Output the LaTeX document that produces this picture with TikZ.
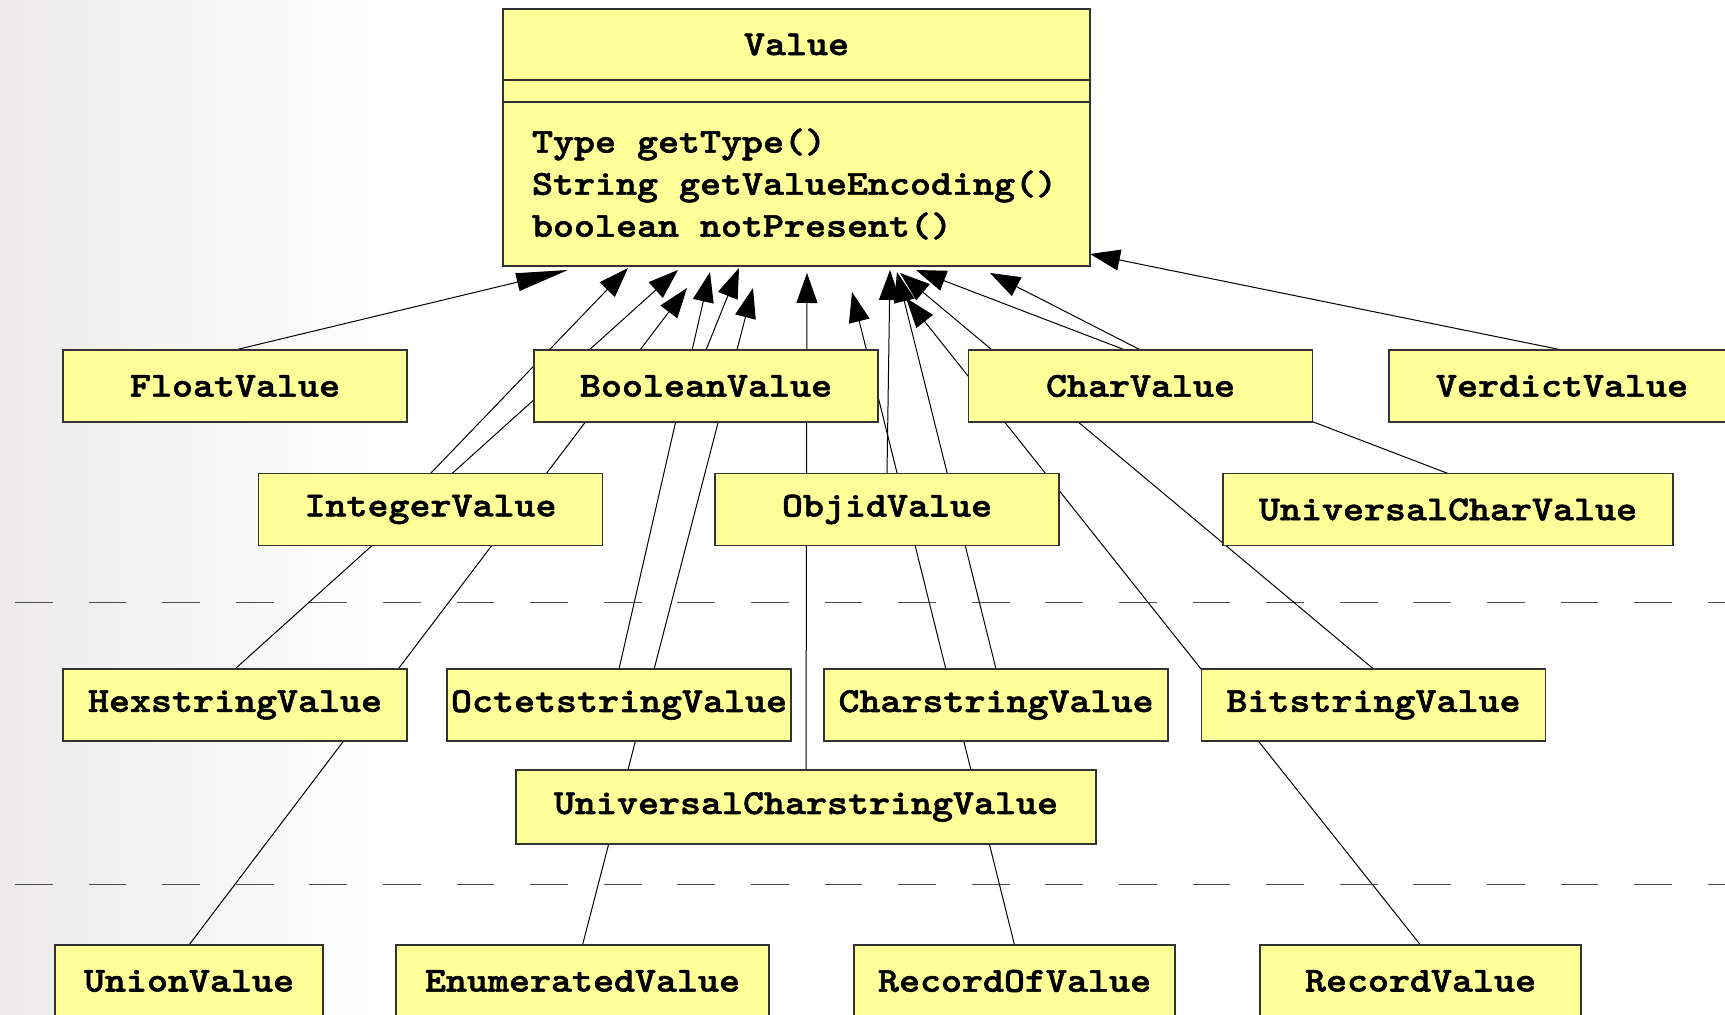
\documentclass[tikz,border=0pt]{standalone}
\usepackage{fontspec}
\newfontfamily\umlfont{lmmonolt10-bold.otf}[FakeStretch=1.143, FakeBold=1.6]
\usepackage{xcolor}
\usetikzlibrary{positioning,arrows.meta}
\definecolor{umlyellow}{HTML}{FFFF99}
\definecolor{slidegray}{HTML}{ECEAEA}
\newcommand{\gap}{\hspace{0.6em}}
\pgfdeclarelayer{back}
\pgfdeclarelayer{edges}
\pgfsetlayers{back,edges,main}
\begin{document}
\begin{tikzpicture}[x=0.5pt, y=-0.5pt, node distance=0pt, outer sep=0pt,
        font=\umlfont\fontsize{17.5}{21}\selectfont,
        classbox/.style={draw=black!80, line width=0.6pt, fill=umlyellow, rectangle, inner xsep=1pt, minimum width=172pt, minimum height=36pt},
        inherit/.style={line width=0.5pt, -{Triangle[length=15pt,width=10.5pt]}},
        sep/.style={black!70, line width=0.5pt, dash pattern=on 18.85pt off 17.95pt}]
        \useasboundingbox (0,0) rectangle (1725,1015);
        \clip (0,0) rectangle (1725,1015);

        \node [classbox, minimum width=293.5pt, minimum height=35.5pt] (Head) at (796.5,44.5) {Value};
        \node [classbox, minimum width=293.5pt, minimum height=11pt, inner sep=0pt, below=0pt of Head] (Attr) {};
        \node [classbox, minimum width=293.5pt, minimum height=82pt, below=0pt of Attr, align=left, text width=264.5pt, inner xsep=14.5pt] (Ops) {Type\gap getType()\\String\gap getValueEncoding()\\boolean\gap notPresent()};

        \node [classbox] (Float) at (235,386) {FloatValue};
        \node [classbox] (Bool) at (706,386) {BooleanValue};
        \node [classbox] (Char) at (1140.5,386) {CharValue};
        \node [classbox, minimum width=173pt] (Verdict) at (1562,386) {VerdictValue};
        \node [classbox] (Int) at (430.5,509.5) {IntegerValue};
        \node [classbox] (Objid) at (887,509.5) {ObjidValue};
        \node [classbox, minimum width=225pt] (UChar) at (1448,509.5) {UniversalCharValue};
        \node [classbox] (Hex) at (235,705) {HexstringValue};
        \node [classbox] (Octet) at (619,705) {OctetstringValue};
        \node [classbox] (Cstr) at (996,705) {CharstringValue};
        \node [classbox] (Bits) at (1373.5,705) {BitstringValue};
        \node [classbox, minimum width=290pt, minimum height=37pt] (UCstr) at (806,807) {UniversalCharstringValue};
        \node [classbox, minimum width=134pt] (Union) at (189,981) {UnionValue};
        \node [classbox, minimum width=186.5pt] (Enum) at (582.5,981) {EnumeratedValue};
        \node [classbox, minimum width=160.5pt] (RecOf) at (1014.5,981) {RecordOfValue};
        \node [classbox, minimum width=160.5pt] (Rec) at (1420.5,981) {RecordValue};

        \coordinate (FloatTip) at (568,270);
        \coordinate (IntTip) at (628,268);
        \coordinate (HexTip) at (678,270);
        \coordinate (UnionTip) at (687,288);
        \coordinate (OctetTip) at (710,272);
        \coordinate (BoolTip) at (739,268);
        \coordinate (EnumTip) at (753,288);
        \coordinate (UCstrTip) at (807,273);
        \coordinate (RecOfTip) at (852,292);
        \coordinate (ObjidTip) at (890,270);
        \coordinate (CstrTip) at (897,272);
        \coordinate (BitsTip) at (900,273);
        \coordinate (RecTip) at (906,298);
        \coordinate (UCharTip) at (916,270);
        \coordinate (CharTip) at (990,273);
        \coordinate (VerdictTip) at (1090,254);

        \begin{pgfonlayer}{back}
        \shade [left color=slidegray, right color=white] (0,0) rectangle (390,1015);
        \end{pgfonlayer}

        \begin{pgfonlayer}{edges}
        \draw [sep] (15,603) -- (1725,603);
        \draw [sep] (15,884) -- (1725,884);
        \draw [inherit, -{Triangle[length=26pt,width=9pt]}] (Float.north) -- (FloatTip);
        \draw [inherit] (Int.north) -- (IntTip);
        \draw [inherit] (Hex.north) -- (HexTip);
        \draw [inherit] (Union.north) -- (UnionTip);
        \draw [inherit] (Octet.north) -- (OctetTip);
        \draw [inherit] (Bool.north) -- (BoolTip);
        \draw [inherit] (Enum.north) -- (EnumTip);
        \draw [inherit] (UCstr.north) -- (UCstrTip);
        \draw [inherit] (RecOf.north) -- (RecOfTip);
        \draw [inherit] (Objid.north) -- (ObjidTip);
        \draw [inherit] (Cstr.north) -- (CstrTip);
        \draw [inherit] (Bits.north) -- (BitsTip);
        \draw [inherit] (Rec.north) -- (RecTip);
        \draw [inherit] (UChar.north) -- (UCharTip);
        \draw [inherit] (Char.north) -- (CharTip);
        \draw [inherit] (Verdict.north) -- (VerdictTip);
        \end{pgfonlayer}
    \end{tikzpicture}
\end{document}
